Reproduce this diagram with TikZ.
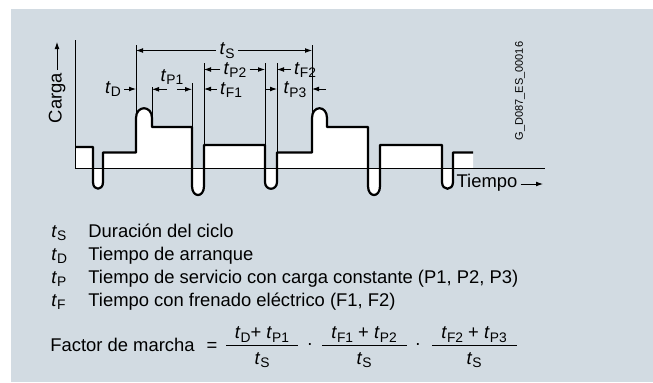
\documentclass[tikz,border=0pt]{standalone}
\usepackage{fontspec}
\setmainfont{Liberation Sans}
\usetikzlibrary{arrows.meta}
\definecolor{panel}{RGB}{210,219,226}
\newcommand*\tsym[1]{\textit{t}\raisebox{-0.4ex}{\fontsize{6.9}{7}\selectfont #1}}

\begin{document}
\begin{tikzpicture}[x=0.5pt, y=-0.5pt,
    every node/.style={inner sep=1.5pt, font=\fontsize{9.2}{11}\selectfont},
    wave/.style={line width=1.1pt, line join=round},
    dim/.style={line width=0.4pt, -{Latex[length=3.5pt,width=2.4pt]}},
    ext/.style={line width=0.4pt},
    axis/.style={line width=0.5pt}]
  \useasboundingbox (0,0) rectangle (653,382);
  \fill[panel] (11,9) rectangle (653,382);
  % Load curve, filled down to the time axis
  \fill[white] (75,168) -- (75,147) -- (93,147) -- (93,182) .. controls (93,191) and (103,191) .. (103,182)
    -- (103,152.5) -- (136,152.5) -- (136,118) .. controls (136,105) and (152,105) .. (152,118)
    -- (152,127) -- (192,127) -- (192,186) .. controls (192,198) and (204,198) .. (204,186)
    -- (204,145) -- (265,145) -- (265,182) .. controls (265,191) and (277,191) .. (277,182)
    -- (277,152.5) -- (312,152.5) -- (312,118) .. controls (312,105) and (327,105) .. (327,118)
    -- (327,127) -- (368,127) -- (368,186) .. controls (368,198) and (380,198) .. (380,186)
    -- (380,145) -- (442,145) -- (442,182) .. controls (442,191) and (453,191) .. (453,182)
    -- (453,152.5) -- (473,152.5) -- (473,168) -- cycle;
  % Axes
  \draw[axis] (75,40) -- (75,168) -- (545,168);
  % Extension lines
  \foreach \xx/\ya/\yb in {136/45/152.5, 152/87/127, 192/83/127, 204/63/145,
                           265/63/145, 277/63/152.5, 312/45/152.5}
    \draw[ext] (\xx,\ya) -- (\xx,\yb);
  \draw[wave] (75,147) -- (93,147) -- (93,182) .. controls (93,191) and (103,191) .. (103,182)
    -- (103,152.5) -- (136,152.5) -- (136,118) .. controls (136,105) and (152,105) .. (152,118)
    -- (152,127) -- (192,127) -- (192,186) .. controls (192,198) and (204,198) .. (204,186)
    -- (204,145) -- (265,145) -- (265,182) .. controls (265,191) and (277,191) .. (277,182)
    -- (277,152.5) -- (312,152.5) -- (312,118) .. controls (312,105) and (327,105) .. (327,118)
    -- (327,127) -- (368,127) -- (368,186) .. controls (368,198) and (380,198) .. (380,186)
    -- (380,145) -- (442,145) -- (442,182) .. controls (442,191) and (453,191) .. (453,182)
    -- (453,152.5) -- (473,152.5);
  % Axis labels
  \node[rotate=90] (carga) at (57,98) {Carga};
  \coordinate (cargatip) at (57,42);
  \draw[dim] (carga) -- (cargatip);
  \node (tiempo) at (487,183) {Tiempo};
  \coordinate (tiempotip) at (543,184);
  \draw[dim] (tiempo.east |- tiempotip) -- (tiempotip);
  \node[rotate=90, font=\fontsize{5.5}{6}\selectfont] (code) at (520,91) {G\_D087\_ES\_00016};
  % Time intervals
  \node[fill=panel] (tS) at (227,50.5) {\tsym{S}};
  \coordinate (s1) at (136,50.5);
  \coordinate (s2) at (312,50.5);
  \draw[dim] (tS) -- (s1);
  \draw[dim] (tS) -- (s2);
  \node (tD) at (113,89) {\tsym{D}};
  \coordinate (d1) at (136,89);
  \draw[dim] (tD) -- (d1);
  \node (tP1) at (172,77) {\tsym{P1}};
  \coordinate (p1a) at (167,89.3);
  \coordinate (p1b) at (152,89.3);
  \coordinate (p1c) at (177,89.3);
  \coordinate (p1d) at (192,89.3);
  \draw[dim] (p1a) -- (p1b);
  \draw[dim] (p1c) -- (p1d);
  \node (tP2) at (235,70) {\tsym{P2}};
  \coordinate (p2a) at (204,69.5);
  \coordinate (p2b) at (265,69.5);
  \draw[dim] (tP2.west |- p2a) -- (p2a);
  \draw[dim] (tP2.east |- p2b) -- (p2b);
  \node (tF1) at (231,90) {\tsym{F1}};
  \coordinate (f1a) at (204,89);
  \draw[dim] (tF1.west |- f1a) -- (f1a);
  \node (tF2) at (305,70) {\tsym{F2}};
  \coordinate (f2a) at (277,69.5);
  \draw[dim] (tF2.west |- f2a) -- (f2a);
  \node (tP3) at (295,90) {\tsym{P3}};
  \coordinate (p3a) at (265,89);
  \coordinate (p3b) at (277,89);
  \coordinate (p3c) at (326,89);
  \coordinate (p3d) at (312,89);
  \draw[dim] (p3a) -- (p3b);
  \draw[dim] (p3c) -- (p3d);
  % Legend
  \node[anchor=base west] (lS) at (48,237) {\tsym{S}};
  \node[anchor=base west] (lD) at (48,260) {\tsym{D}};
  \node[anchor=base west] (lP) at (48,283) {\tsym{P}};
  \node[anchor=base west] (lF) at (48,306) {\tsym{F}};
  \node[anchor=base west] (txS) at (85,237) {Duración del ciclo};
  \node[anchor=base west] (txD) at (85,260) {Tiempo de arranque};
  \node[anchor=base west] (txP) at (85,283) {Tiempo de servicio con carga constante (P1, P2, P3)};
  \node[anchor=base west] (txF) at (85,306) {Tiempo con frenado eléctrico (F1, F2)};
  % Formula
  \node[anchor=base west] (fm) at (47,351.7) {Factor de marcha};
  \node[anchor=base] (eq) at (212,351.7) {=};
  \node[anchor=base] (num1) at (262,338.5) {\tsym{D}+ \tsym{P1}};
  \node[anchor=base] (den1) at (262,364) {\tsym{S}};
  \draw[ext] (226,345.7) -- (298,345.7);
  \node (dot1) at (310,346.7) {·};
  \node[anchor=base] (num2) at (364,338.5) {\tsym{F1} + \tsym{P2}};
  \node[anchor=base] (den2) at (364,364) {\tsym{S}};
  \draw[ext] (322,345.7) -- (407,345.7);
  \node (dot2) at (418,346.7) {·};
  \node[anchor=base] (num3) at (474,338.5) {\tsym{F2} + \tsym{P3}};
  \node[anchor=base] (den3) at (474,364) {\tsym{S}};
  \draw[ext] (432,345.7) -- (517,345.7);
\end{tikzpicture}
\end{document}
